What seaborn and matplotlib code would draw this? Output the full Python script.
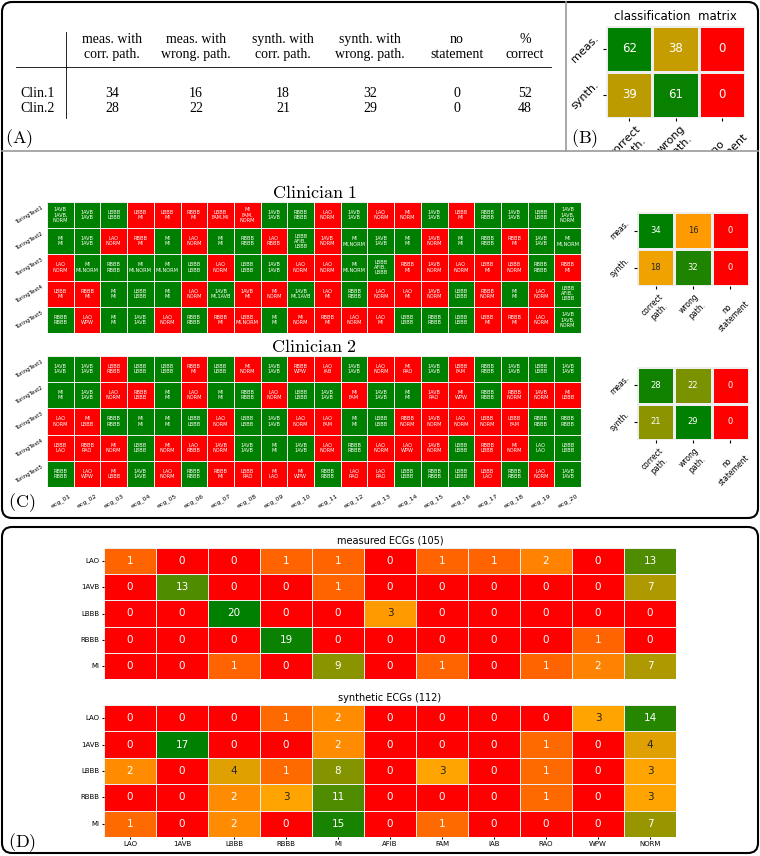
import numpy as np
import matplotlib
matplotlib.use("Agg")
import matplotlib.pyplot as plt
import seaborn as sns
from matplotlib.colors import LinearSegmentedColormap, ListedColormap, PowerNorm
from matplotlib.patches import FancyBboxPatch
from matplotlib.transforms import Bbox, TransformedBbox

plt.rcParams["mathtext.fontset"] = "cm"

W, H = 760, 856

# Panel A: summary table
table_cols = ["meas. with\ncorr. path.", "meas. with\nwrong. path.", "synth. with\ncorr. path.",
              "synth. with\nwrong. path.", "no\nstatement", "%\ncorrect"]
table_rows = ["Clin.1", "Clin.2"]
table_vals = [[34, 16, 18, 32, 0, 52],
              [28, 22, 21, 29, 0, 48]]

# Panels B / C: classification matrices
matrix_rows = ["meas.", "synth."]
matrix_cols = ["correct\npath.", "wrong\npath.", "no\nstatement"]
overall_matrix = [[62, 38, 0], [39, 61, 0]]
clin1_matrix = [[34, 16, 0], [18, 32, 0]]
clin2_matrix = [[28, 22, 0], [21, 29, 0]]

# Panel C: answers per test / ecg ("true/answer")
tests = ["TuringTest1", "TuringTest2", "TuringTest3", "TuringTest4", "TuringTest5"]
ecgs = ["ecg_01", "ecg_02", "ecg_03", "ecg_04", "ecg_05", "ecg_06", "ecg_07", "ecg_08", "ecg_09", "ecg_10",
        "ecg_11", "ecg_12", "ecg_13", "ecg_14", "ecg_15", "ecg_16", "ecg_17", "ecg_18", "ecg_19", "ecg_20"]

clin1_answers = [
    ["1AVB/1AVB,NORM", "1AVB/1AVB", "LBBB/LBBB", "LBBB/MI", "LBBB/MI", "RBBB/MI", "LBBB/FAM,MI", "MI/FAM,NORM",
     "1AVB/1AVB", "RBBB/RBBB", "LAO/NORM", "1AVB/1AVB", "LAO/NORM", "MI/NORM", "1AVB/1AVB", "LBBB/MI",
     "RBBB/RBBB", "1AVB/1AVB", "LBBB/LBBB", "1AVB/1AVB,NORM"],
    ["MI/MI", "1AVB/1AVB", "LAO/NORM", "RBBB/MI", "MI/MI", "LAO/NORM", "MI/MI", "RBBB/RBBB", "LAO/RBBB",
     "LBBB/AFIB,LBBB", "1AVB/NORM", "MI/MI,NORM", "1AVB/1AVB", "MI/MI", "1AVB/NORM", "MI/MI", "RBBB/RBBB",
     "RBBB/MI", "1AVB/1AVB", "MI/MI,NORM"],
    ["LAO/NORM", "MI/MI,NORM", "RBBB/RBBB", "MI/MI,NORM", "MI/MI,NORM", "LBBB/LBBB", "LAO/NORM", "LBBB/LBBB",
     "1AVB/1AVB", "LAO/NORM", "LAO/NORM", "MI/MI,NORM", "LBBB/AFIB,LBBB", "RBBB/MI", "1AVB/NORM", "LAO/NORM",
     "LBBB/MI", "LBBB/NORM", "RBBB/RBBB", "RBBB/MI"],
    ["LBBB/MI", "RBBB/MI", "MI/MI", "LBBB/LBBB", "MI/MI", "LAO/NORM", "1AVB/MI,1AVB", "1AVB/MI", "MI/NORM",
     "1AVB/MI,1AVB", "LAO/MI", "RBBB/RBBB", "LAO/NORM", "LAO/MI", "1AVB/NORM", "LBBB/LBBB", "RBBB/NORM",
     "MI/MI", "LAO/NORM", "LBBB/AFIB,LBBB"],
    ["RBBB/RBBB", "LAO/WPW", "MI/MI", "1AVB/1AVB", "LAO/NORM", "RBBB/RBBB", "RBBB/MI", "LBBB/MI,NORM", "MI/MI",
     "MI/NORM", "RBBB/MI", "LAO/NORM", "LAO/MI", "LBBB/LBBB", "RBBB/RBBB", "LBBB/LBBB", "LBBB/MI", "RBBB/MI",
     "LAO/NORM", "1AVB/1AVB,NORM"],
]

clin2_answers = [
    ["1AVB/1AVB", "1AVB/1AVB", "LBBB/RBBB", "LBBB/LBBB", "LBBB/LBBB", "RBBB/MI", "LBBB/LBBB", "MI/NORM",
     "1AVB/1AVB", "RBBB/WPW", "LAO/IAB", "1AVB/1AVB", "LAO/NORM", "MI/RAO", "1AVB/1AVB", "LBBB/FAM",
     "RBBB/RBBB", "1AVB/1AVB", "LBBB/LBBB", "1AVB/1AVB"],
    ["MI/MI", "1AVB/1AVB", "LAO/NORM", "RBBB/LBBB", "MI/MI", "LAO/NORM", "MI/MI", "RBBB/RBBB", "LAO/NORM",
     "LBBB/LBBB", "1AVB/1AVB", "MI/FAM", "1AVB/1AVB", "MI/MI", "1AVB/RAO", "MI/WPW", "RBBB/RBBB", "RBBB/NORM",
     "1AVB/NORM", "MI/LBBB"],
    ["LAO/NORM", "MI/LBBB", "RBBB/RBBB", "MI/MI", "MI/MI", "LBBB/LBBB", "LAO/NORM", "LBBB/LBBB", "1AVB/1AVB",
     "LAO/NORM", "LAO/FAM", "MI/MI", "LBBB/LBBB", "RBBB/NORM", "1AVB/NORM", "LAO/NORM", "LBBB/NORM",
     "LBBB/FAM", "RBBB/RBBB", "RBBB/RBBB"],
    ["LBBB/LAO", "RBBB/RAO", "MI/NORM", "LBBB/LBBB", "MI/NORM", "LAO/RBBB", "1AVB/NORM", "1AVB/1AVB", "MI/MI",
     "1AVB/1AVB", "LAO/NORM", "RBBB/RBBB", "LAO/NORM", "LAO/WPW", "1AVB/NORM", "LBBB/LBBB", "RBBB/LBBB",
     "MI/NORM", "LAO/LAO", "LBBB/LBBB"],
    ["RBBB/RBBB", "LAO/WPW", "MI/LBBB", "1AVB/1AVB", "LAO/NORM", "RBBB/RBBB", "RBBB/MI", "LBBB/RAO", "MI/LAO",
     "MI/WPW", "RBBB/RBBB", "LAO/RAO", "LAO/RAO", "LBBB/LBBB", "RBBB/RBBB", "LBBB/LBBB", "LBBB/LAO",
     "RBBB/RBBB", "LAO/NORM", "1AVB/1AVB"],
]

# Panel D: confusion of pathologies
path_rows = ["LAO", "1AVB", "LBBB", "RBBB", "MI"]
diag_cols = ["LAO", "1AVB", "LBBB", "RBBB", "MI", "AFIB", "FAM", "IAB", "RAO", "WPW", "NORM"]
measured_counts = [[1, 0, 0, 1, 1, 0, 1, 1, 2, 0, 13],
                   [0, 13, 0, 0, 1, 0, 0, 0, 0, 0, 7],
                   [0, 0, 20, 0, 0, 3, 0, 0, 0, 0, 0],
                   [0, 0, 0, 19, 0, 0, 0, 0, 0, 1, 0],
                   [0, 0, 1, 0, 9, 0, 1, 0, 1, 2, 7]]
synthetic_counts = [[0, 0, 0, 1, 2, 0, 0, 0, 0, 3, 14],
                    [0, 17, 0, 0, 2, 0, 0, 0, 1, 0, 4],
                    [2, 0, 4, 1, 8, 0, 3, 0, 1, 0, 3],
                    [0, 0, 2, 3, 11, 0, 0, 0, 1, 0, 3],
                    [1, 0, 2, 0, 15, 0, 1, 0, 0, 0, 7]]

rog = LinearSegmentedColormap.from_list("rog", ["red", "orange", "green"])
rg = ListedColormap(["red", "green"])

fig = plt.figure(figsize=(W / 100, H / 100), dpi=100)


def px_axes(x0, y0, x1, y1, **kw):
    return fig.add_axes([x0 / W, 1 - y1 / H, (x1 - x0) / W, (y1 - y0) / H], **kw)


def small_matrix(ax, data, fs_annot, fs_tick, title=None):
    data = np.array(data)
    sns.heatmap(data, ax=ax, cmap=rog, vmin=0, vmax=data.max(), annot=True, fmt="d", cbar=False,
                linewidths=1, linecolor="#eeeeee", annot_kws={"size": fs_annot},
                xticklabels=matrix_cols, yticklabels=matrix_rows)
    ax.tick_params(length=2.5, pad=1.5, labelsize=fs_tick)
    plt.setp(ax.get_yticklabels(), rotation=45)
    plt.setp(ax.get_xticklabels(), rotation=45)
    if title:
        ax.set_title(title, fontsize=8.5, pad=4)


def cell_text(a):
    true, ans = a.split("/")
    if len(ans) > 7:
        ans = ans.replace(",", ",\n")
    return true + "\n" + ans


def answer_grid(ax, answers, title, show_x):
    correct = np.array([[int(a.split("/")[0] in a.split("/")[1].split(",")) for a in row] for row in answers])
    labels = np.array([[cell_text(a) for a in row] for row in answers], dtype=object)
    sns.heatmap(correct, ax=ax, cmap=rg, vmin=0, vmax=1, annot=labels, fmt="", cbar=False,
                linewidths=0.6, linecolor="#eeeeee",
                annot_kws={"size": 3.6, "color": "white", "linespacing": 1.05},
                xticklabels=ecgs if show_x else False, yticklabels=tests)
    ax.tick_params(length=0, pad=2, labelsize=4)
    plt.setp(ax.get_yticklabels(), rotation=30)
    if show_x:
        ax.tick_params(axis="x", pad=4, labelsize=4.5)
        plt.setp(ax.get_xticklabels(), rotation=30)
    ax.set_title(title, fontsize=13, pad=2)


def count_grid(ax, data, title, show_x):
    data = np.array(data)
    sns.heatmap(data, ax=ax, cmap=rog, norm=PowerNorm(0.4, vmin=0, vmax=data.max()), annot=True, fmt="d",
                cbar=False, linewidths=0.6, linecolor="#eeeeee", annot_kws={"size": 7.5},
                xticklabels=diag_cols if show_x else False, yticklabels=path_rows)
    ax.tick_params(length=1.5, pad=1.5, labelsize=5)
    plt.setp(ax.get_yticklabels(), rotation=0)
    ax.set_title(title, fontsize=7, pad=3)


# B
axB = px_axes(606, 26, 745, 118)
small_matrix(axB, overall_matrix, 8.5, 8, "classification  matrix")
clip = TransformedBbox(Bbox.from_extents(566 / W, 1 - 151 / H, 1, 1), fig.transFigure)
for t in axB.get_xticklabels():
    t.set_clip_box(clip)
    t.set_clip_on(True)

# C
answer_grid(px_axes(47, 202, 581, 333), clin1_answers, r"$\mathrm{Clinician\ 1}$", False)
answer_grid(px_axes(47, 356, 581, 487), clin2_answers, r"$\mathrm{Clinician\ 2}$", True)
small_matrix(px_axes(637, 212, 749, 286), clin1_matrix, 6, 5.5)
small_matrix(px_axes(637, 367, 749, 440), clin2_matrix, 6, 5.5)

# D
count_grid(px_axes(104, 548, 676, 679), measured_counts, "measured ECGs (105)", False)
count_grid(px_axes(104, 705, 676, 837), synthetic_counts, "synthetic ECGs (112)", True)

# overlay: frames, table A and panel letters
ov = fig.add_axes([0, 0, 1, 1], zorder=10)
ov.set_xlim(0, W)
ov.set_ylim(H, 0)
ov.axis("off")
ov.add_patch(FancyBboxPatch((2, 2), 756, 516, boxstyle="round,pad=0,rounding_size=10",
                            fill=False, ec="black", lw=1.5))
ov.add_patch(FancyBboxPatch((2, 527), 756, 326, boxstyle="round,pad=0,rounding_size=10",
                            fill=False, ec="black", lw=1.5))
ov.plot([2, 758], [151, 151], color="#9a9a9a", lw=1.2)
ov.plot([566, 566], [2, 151], color="#9a9a9a", lw=1.2)

col_x = [112, 196, 283, 370, 457, 525]
row_y = [93, 108]
serif = "Liberation Serif"
for x, c in zip(col_x, table_cols):
    ov.text(x, 47, c, ha="center", va="center", fontsize=10, family=serif)
for y, r, vals in zip(row_y, table_rows, table_vals):
    ov.text(55, y, r, ha="right", va="center", fontsize=10, family=serif)
    for x, v in zip(col_x, vals):
        ov.text(x, y, str(v), ha="center", va="center", fontsize=10, family=serif)
ov.plot([16, 551], [67, 67], color="black", lw=0.6)
ov.plot([66, 66], [32, 118], color="black", lw=0.6)

for x, y, s in [(5, 139, "A"), (571, 139, "B"), (8, 503, "C"), (8, 843, "D")]:
    ov.text(x, y, r"$\mathrm{(" + s + ")}$", ha="left", va="center", fontsize=13)

fig.savefig("out.png", dpi=100)
